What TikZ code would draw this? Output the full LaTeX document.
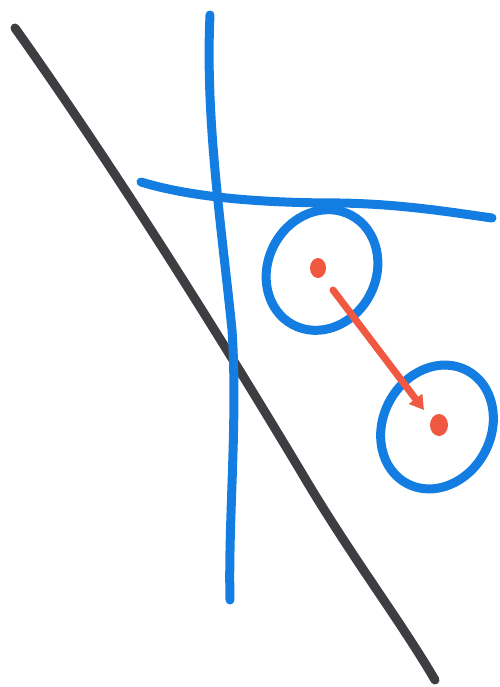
\documentclass[tikz,border=0pt]{standalone}
\usetikzlibrary{arrows.meta}
\definecolor{penblue}{RGB}{20,125,225}
\definecolor{pengray}{RGB}{62,62,66}
\definecolor{penred}{RGB}{240,88,66}
\tikzset{
  blueline/.style={draw=penblue,line width=9pt,line cap=round,line join=round},
  grayline/.style={draw=pengray,line width=9pt,line cap=round},
  redline/.style={draw=penred,line width=7pt,line cap=round},
  reddot/.style={fill=penred},
}
\begin{document}
\begin{tikzpicture}[x=1pt,y=-1pt]
\useasboundingbox (0,0) rectangle (499,687);
\fill[white] (0,0) rectangle (499,687);
% gray diagonal
\draw[grayline] (15,28) .. controls (130,190) and (240,370) .. (300,470) .. controls (350,555) and (400,620) .. (435,680);
% blue vertical
\draw[blueline] (210,15) .. controls (205,120) and (222,230) .. (232,330) .. controls (238,420) and (228,520) .. (230,600);
% blue horizontal
\draw[blueline] (141,182) .. controls (200,200) and (280,203) .. (340,203) .. controls (400,204) and (450,212) .. (492,218);
% circles
\draw[blueline] (322,270) ellipse[x radius=54,y radius=62,rotate=-28];
\draw[blueline] (437,427) ellipse[x radius=54,y radius=64,rotate=-28];
% red arrow and dots
\draw[redline,-{Triangle[length=14pt,width=16pt]}] (333,290) -- (424,410);
\fill[reddot] (318,268) ellipse[x radius=8,y radius=10];
\fill[reddot] (439,425) ellipse[x radius=9,y radius=11];
\end{tikzpicture}
\end{document}
